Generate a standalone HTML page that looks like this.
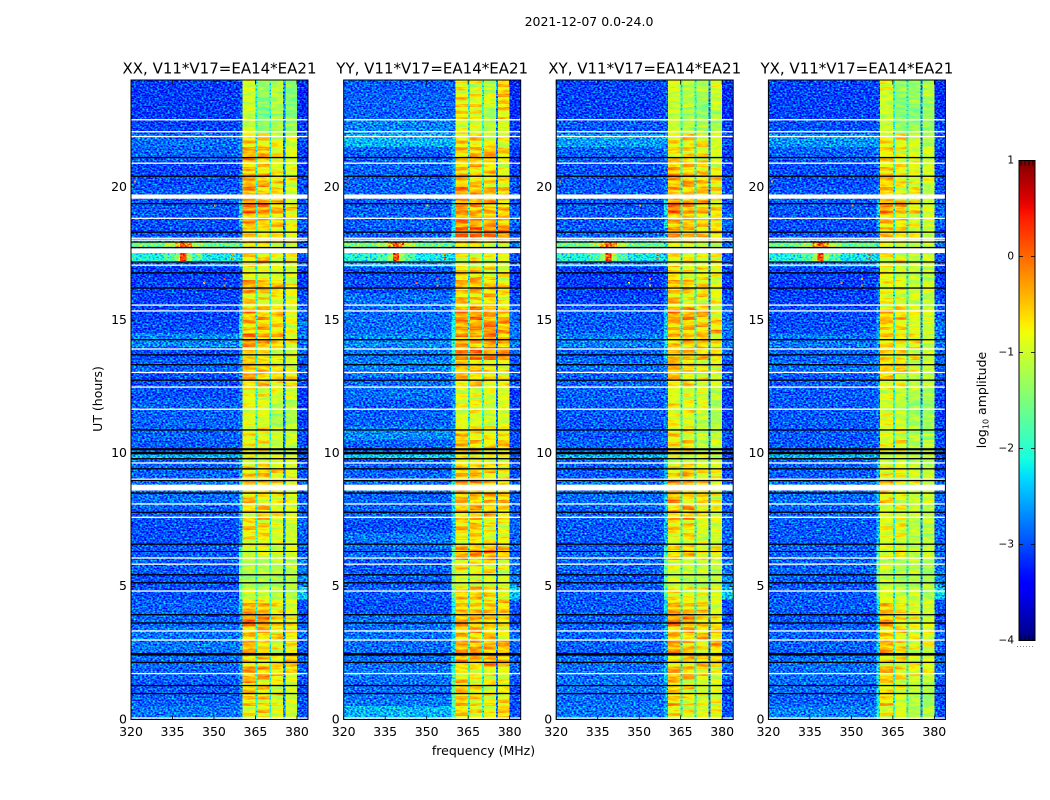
<!DOCTYPE html>
<html lang="en">
<head>
<meta charset="utf-8">
<title>2021-12-07 0.0-24.0</title>
<style>
html,body{margin:0;padding:0;background:#fff;width:1050px;height:800px;overflow:hidden}
svg{display:block}
text{font-family:"DejaVu Sans","Liberation Sans",sans-serif;fill:#000}
</style>
</head>
<body>
<svg id="figure" xmlns="http://www.w3.org/2000/svg" width="1050" height="800" viewBox="0 0 1050 800">
  <defs>
    <filter id="noise-bg" filterUnits="userSpaceOnUse" x="0" y="0" width="1050" height="800" color-interpolation-filters="sRGB">
      <feTurbulence type="fractalNoise" baseFrequency="0.47 0.63" numOctaves="1" seed="7" result="t"/>
      <feColorMatrix in="t" type="matrix" values="1 0 0 0 0 1 0 0 0 0 1 0 0 0 0 0 0 0 0 1" result="n"/>
      <feComposite in="SourceGraphic" in2="n" operator="arithmetic" k1="0" k2="1" k3="0.58" k4="-0.29" result="m"/>
      <feComponentTransfer in="m" result="c">
        <feFuncR class="jet-r" type="table"/><feFuncG class="jet-g" type="table"/><feFuncB class="jet-b" type="table"/>
      </feComponentTransfer>
      <feComposite in="c" in2="SourceAlpha" operator="in"/>
    </filter>
    <filter id="noise-band" filterUnits="userSpaceOnUse" x="0" y="0" width="1050" height="800" color-interpolation-filters="sRGB">
      <feTurbulence type="fractalNoise" baseFrequency="0.09 0.5" numOctaves="2" seed="3" result="t"/>
      <feColorMatrix in="t" type="matrix" values="1 0 0 0 0 1 0 0 0 0 1 0 0 0 0 0 0 0 0 1" result="n"/>
      <feComposite in="SourceGraphic" in2="n" operator="arithmetic" k1="0" k2="1" k3="0.2" k4="-0.1" result="m"/>
      <feComponentTransfer in="m" result="c">
        <feFuncR class="jet-r" type="table"/><feFuncG class="jet-g" type="table"/><feFuncB class="jet-b" type="table"/>
      </feComponentTransfer>
      <feComposite in="c" in2="SourceAlpha" operator="in"/>
    </filter>
    <linearGradient id="jet-gradient" x1="0" y1="1" x2="0" y2="0"></linearGradient>
  </defs>
  <text x="589" y="26" text-anchor="middle" font-size="12.5">2021-12-07 0.0-24.0</text>
  <text transform="translate(102,399) rotate(-90)" text-anchor="middle" font-size="12.5">UT (hours)</text>
  <text x="483.5" y="755" text-anchor="middle" font-size="12.5">frequency (MHz)</text>
  <g id="panels"></g>
  <g id="colorbar"></g>
  <text transform="translate(986,400) rotate(-90)" text-anchor="middle" font-size="12.5">log<tspan font-size="8" dy="2.5">10</tspan><tspan dy="-2.5"> amplitude</tspan></text>
</svg>
<script>
// ---- axis definitions ----
const xTicks = [320, 335, 350, 365, 380];
const yTicks = [0, 5, 10, 15, 20];
const colorbarTicks = [1, 0, -1, -2, -3, -4];
const panelNames = ['XX', 'YY', 'XY', 'YX'];
// channel boundaries in MHz: background, band edge, sub-band 1, gap, sub-band 2, gap, sub-band 3, gap, sub-band 4, upper edge
const freqEdges = [320, 359, 360.4, 365, 365.7, 370, 370.7, 375, 375.8, 380, 384];
const rowHours = 0.5;
const gapLevels = [-2.0, -2.0, -2.7];

// ---- log10 amplitude per half-hour row, hour 0 first ----
const xxBackground = [
-2.8,-2.9,-2.95,-2.9,-2.85,-2.8,-2.8,-2.9,
-2.9,-3,-3,-2.95,-2.95,-3,-3,-2.95,
-2.85,-2.8,-2.9,-2.9,-2.95,-2.9,-2.9,-2.9,
-3,-3,-2.9,-3,-2.7,-3,-3.05,-3.05,
-3.05,-3.1,-2.9,-2.6,-3,-3,-2.95,-2.95,
-3,-3.05,-2.9,-2.85,-3.05,-3.1,-3.1,-3.1];
const yyBackground = [
-2.5,-2.8,-2.85,-2.8,-2.85,-2.85,-2.85,-2.85,
-3,-2.95,-2.95,-2.95,-2.9,-2.8,-3,-2.9,
-2.9,-2.85,-2.9,-2.9,-2.9,-2.7,-2.9,-2.95,
-2.85,-2.85,-2.75,-2.8,-2.7,-2.85,-2.85,-2.85,
-3,-3,-2.6,-2.6,-2.95,-2.9,-2.95,-2.9,
-2.9,-2.9,-2.9,-2.5,-2.75,-2.9,-2.9,-2.95];
const xyBackground = [
-2.8,-2.85,-2.8,-2.85,-2.85,-2.9,-2.9,-2.9,
-2.95,-2.95,-2.95,-2.9,-2.9,-2.95,-2.95,-2.9,
-2.85,-2.8,-2.95,-2.9,-2.9,-2.95,-2.95,-2.95,
-2.9,-2.9,-2.85,-2.9,-2.75,-2.95,-2.95,-3.05,
-3.1,-3.1,-2.8,-2.6,-2.9,-2.95,-2.95,-2.95,
-2.95,-3,-2.9,-2.6,-2.95,-3.05,-3.05,-3.05];
const yxBackground = [
-2.75,-2.9,-2.85,-2.85,-2.85,-2.9,-2.9,-2.95,
-2.95,-2.95,-2.95,-2.9,-2.9,-2.95,-2.95,-2.9,
-2.85,-2.85,-2.95,-2.9,-2.95,-2.95,-2.95,-2.95,
-2.95,-2.95,-2.85,-2.9,-2.8,-3,-3,-3.05,
-3.1,-3.05,-2.8,-2.6,-3,-3,-2.95,-2.95,
-3,-3,-2.9,-2.65,-3,-3.05,-3.05,-3.05];

const xxEdge = [
-2.7,-2.7,-2.7,-2.6,-2.6,-2.6,-2.6,-2.6,
-2.4,-1.8,-1.6,-1.6,-1.9,-2.6,-2.6,-2.5,
-2.4,-2.3,-2.5,-2.5,-2.8,-2.8,-2.8,-2.8,
-2.8,-2.7,-2.6,-2.6,-2.2,-2.2,-2.4,-2.8,
-2.9,-3,-2.4,-2,-2.8,-2.5,-2.3,-2.7,
-2.7,-2.8,-2.7,-2.6,-2.9,-3,-3,-3];
const yyEdge = [
-1.9,-1.7,-1.7,-2.0,-2.2,-2.3,-2.2,-2.4,
-2.1,-1.6,-1.4,-1.4,-1.7,-2.4,-2.5,-2.3,
-2.1,-2.1,-2.3,-2.3,-2.7,-2.7,-2.7,-2.7,
-2.7,-2.5,-2.2,-2.1,-1.9,-2.1,-2.3,-2.6,
-2.8,-2.9,-2.4,-2.1,-2.0,-2.4,-2.3,-2.6,
-2.6,-2.6,-2.6,-2.5,-2.8,-2.9,-2.9,-2.9];
const xyEdge = [
-2.5,-2.6,-2.5,-2.4,-2.5,-2.5,-2.5,-2.6,
-2.3,-1.8,-1.6,-1.6,-1.9,-2.4,-2.5,-2.5,
-2.4,-2.3,-2.5,-2.4,-2.8,-2.8,-2.8,-2.8,
-2.8,-2.8,-2.6,-2.4,-2.3,-2.4,-2.5,-2.8,
-2.9,-3,-2.4,-2.1,-2.6,-2.4,-2.2,-2.7,
-2.8,-2.8,-2.7,-2.6,-2.9,-3,-3,-3];
const yxEdge = [
-2.0,-2.2,-2.2,-2.2,-2.3,-2.3,-2.4,-2.5,
-2.2,-1.7,-1.6,-1.6,-1.8,-2.4,-2.5,-2.5,
-2.4,-2.4,-2.5,-2.4,-2.8,-2.8,-2.8,-2.8,
-2.8,-2.8,-2.6,-2.6,-2.5,-2.6,-2.6,-2.8,
-2.9,-3,-2.4,-2.1,-2.8,-2.5,-2.3,-2.7,
-2.8,-2.8,-2.7,-2.6,-2.9,-3,-3,-3];

const upperEdge = [
-3.0,-3.0,-3.0,-2.9,-2.9,-2.9,-2.9,-3.0,
-3.0,-2.4,-2.7,-2.8,-2.9,-2.9,-2.9,-2.9,
-2.9,-2.9,-3.0,-3.0,-3.0,-3.0,-3.1,-3.1,
-3.1,-3.0,-3.0,-2.9,-2.8,-2.8,-2.9,-3.0,
-3.1,-3.1,-3.0,-2.8,-3.0,-2.9,-2.9,-3.0,
-3.0,-3.1,-3.1,-3.0,-3.1,-3.2,-3.2,-3.2];

// four sub-bands per row
const xxBands = [
[-.7,-.6,-.9,-1],[-.6,-.6,-.8,-.9],[-.5,-.6,-.8,-1],[-.3,-.3,-.5,-.7],[-.5,-.6,-.7,-.4],[-.4,-.6,-.8,-.7],[-.4,-.4,-.6,-.6],[-.1,-.1,-.6,-.7],
[-.4,-.4,-.7,-.9],[-1,-1,-1.1,-1.1],[-1.2,-1.2,-1.2,-1.1],[-1.1,-1.1,-1.1,-1.1],[-.9,-.9,-1,-.9],[-.7,-.6,-.9,-1],[-.6,-.6,-.9,-1],[-.6,-.4,-.7,-.9],
[-.5,-.7,-.8,-.8],[-.4,-.4,-.5,-.7],[-.5,-.4,-.7,-.8],[-.8,-.7,-.9,-1],[-.7,-.7,-1,-1],[-.7,-.7,-1,-1],[-.9,-.9,-1.2,-1.2],[-.8,-.9,-1.1,-1.1],
[-.7,-.8,-.9,-.9],[-.4,-.5,-.6,-.6],[-.3,-.4,-.6,-.8],[-.7,-.7,-.8,-.8],[-.2,-.3,-.5,-.7],[-.4,-.4,-.6,-.8],[-.3,-.4,-.5,-.8],[-.6,-.7,-.8,-.9],
[-.3,-.4,-.5,-.8],[-.8,-.9,-.9,-1],[-.6,-.5,-.8,-.8],[-.6,-.5,-.7,-.7],[-.6,-.7,-.7,-.9],[-.3,-.4,-.5,-.7],[-.1,-.1,-.4,-.6],[-.3,-.4,-.6,-.9],
[-.3,-.4,-.6,-.8],[-.5,-.6,-.8,-.9],[-.3,-.4,-.7,-.9],[-.5,-.6,-.8,-1],[-1,-1.3,-1.2,-1.3],[-1,-1.5,-1.2,-1.4],[-1,-1.4,-1.1,-1.4],[-.9,-1.3,-1.1,-1.4]];
const yyBands = [
[-.5,-.7,-.8,-.5],[-.5,-.6,-.7,-.7],[-.5,-.6,-.8,-.8],[-.7,-.8,-.7,-.9],[-.3,-.4,-.3,-.4],[-.3,-.3,-.3,-.4],[-.4,-.4,-.5,-.7],[-.3,-.4,-.5,-.6],
[-.5,-.5,-.5,-.6],[-.5,-.4,-.6,-.8],[-.9,-.8,-.9,-1],[-.6,-.6,-.7,-.8],[-.2,-.2,-.2,-.4],[-.7,-.6,-.8,-.8],[-.5,-.5,-.7,-.8],[-.4,-.4,-.5,-.6],
[-.4,-.4,-.4,-.5],[-.2,-.2,-.4,-.5],[-.4,-.4,-.6,-.8],[-.6,-.6,-.7,-.8],[-.4,-.5,-.5,-.5],[-.4,-.6,-.7,-.6],[-.9,-.9,-1,-.9],[-.8,-.8,-1,-.9],
[-.8,-.8,-.9,-.9],[-.5,-.5,-.6,-.7],[-.3,-.4,-.6,-.7],[-.2,-.1,-.1,-.1],[-.3,-.4,-.2,-.3],[-.2,-.2,-.1,-.3],[-.2,-.1,-.3,-.4],[-.5,-.5,-.5,-.8],
[-.5,-.3,-.5,-.7],[-.6,-.4,-.7,-.8],[-.8,-.8,-.8,-.9],[-.5,-.5,-.7,-.7],[0,0,-.1,0],[-.1,-.2,-.3,-.4],[-.2,-.3,-.4,-.5],[-.2,-.2,-.4,-.5],
[-.4,-.5,-.6,-.7],[-.5,-.5,-.6,-.8],[-.5,-.4,-.3,-.6],[-.5,-.6,-.8,-.8],[-.8,-.9,-1.1,-.9],[-.6,-.7,-1.2,-.6],[-.6,-.7,-.9,-.5],[-.8,-.8,-1.1,-.5]];
const xyBands = [
[-.6,-.8,-.9,-.7],[-.5,-.7,-.8,-.8],[-.6,-.7,-.9,-.9],[-.3,-.4,-.6,-.8],[-.6,-.5,-.5,-.5],[-.3,-.5,-.6,-.5],[-.4,-.4,-.5,-.5],[-.1,-.2,-.5,-.7],
[-.4,-.5,-.6,-.9],[-.7,-.8,-.8,-.8],[-1,-1.1,-1.1,-1.1],[-.9,-1,-1,-1],[-.5,-.5,-.7,-.7],[-.8,-.7,-1,-1],[-.6,-.6,-.9,-.9],[-.4,-.3,-.7,-.8],
[-.4,-.6,-.6,-.8],[-.2,-.3,-.5,-.7],[-.5,-.4,-.7,-.7],[-.8,-.8,-.9,-1],[-.6,-.6,-1,-1],[-.6,-.7,-1,-1.1],[-.8,-.9,-1.1,-1.2],[-.8,-.8,-.9,-1.1],
[-.9,-.8,-.9,-1.1],[-.5,-.6,-.8,-.9],[-.2,-.5,-.6,-.8],[-.5,-.4,-.4,-.5],[-.5,-.4,-.4,-.7],[-.4,-.4,-.5,-.5],[-.2,-.2,-.4,-.8],[-.5,-.7,-.7,-.8],
[-.5,-.4,-.6,-.8],[-.6,-.7,-.7,-.8],[-.7,-.7,-.8,-.8],[-.7,-.7,-.8,-.8],[-.3,-.5,-.5,-.5],[-.3,-.4,-.5,-.6],[0,-.2,-.4,-.6],[-.4,-.4,-.5,-.5],
[-.3,-.3,-.4,-.6],[-.4,-.5,-.6,-.8],[-.6,-.6,-.7,-.9],[-.6,-.6,-.7,-.9],[-1,-1.1,-1.2,-1.2],[-1,-1.2,-1.3,-1.2],[-1,-1.1,-1.3,-1],[-.9,-1.1,-1.1,-.9]];
const yxBands = [
[-.7,-.9,-1.1,-1.1],[-.6,-.9,-1.1,-1.2],[-.7,-.8,-1,-1.1],[-.4,-.6,-.7,-.8],[-.7,-.7,-.8,-.9],[-.4,-.6,-.8,-.8],[-.5,-.6,-.8,-.8],[-.3,-.6,-.8,-.9],
[-.5,-.7,-.9,-1],[-.9,-1,-1,-1.1],[-1.1,-1.2,-1.2,-1.2],[-1,-1.1,-1.1,-1.2],[-.8,-.7,-1,-1],[-.9,-.8,-1.1,-1.1],[-.8,-.7,-1.1,-1.1],[-.9,-.8,-1,-1.1],
[-.7,-.8,-1,-1],[-.4,-.7,-.8,-.9],[-.7,-.7,-.9,-1],[-1,-.9,-1.1,-1.1],[-.8,-.7,-1.1,-1.1],[-.9,-.8,-1.1,-1.2],[-.8,-1,-1.2,-1.2],[-1,-1.1,-1.3,-1.3],
[-.8,-1,-1.1,-1.2],[-.7,-.8,-1,-1.1],[-.4,-.4,-.8,-1],[-.7,-.7,-.7,-.9],[-.6,-.7,-.7,-1],[-.5,-.6,-.9,-1],[-.4,-.5,-.8,-.9],[-.8,-.8,-1,-1.1],
[-.8,-.7,-1,-1],[-.8,-.9,-1,-1.1],[-.8,-.8,-1,-1],[-.8,-.8,-1,-1],[-.5,-.7,-.8,-1],[-.4,-.6,-.8,-.9],[-.2,-.3,-.6,-.9],[-.5,-.7,-.7,-1],
[-.4,-.7,-.8,-.8],[-.6,-.7,-.8,-.9],[-.6,-.8,-.9,-1],[-.6,-.7,-.9,-1.1],[-1,-1.3,-1.3,-1.3],[-1,-1.4,-1.4,-1.3],[-1,-1.4,-1.3,-1.2],[-.8,-1.3,-1.3,-1.1]];

// horizontal striations read inside the sub-bands, offsets in log10 amplitude
const stripeOffsets = [-.3,.1,-.35,.15,-.15,-.3,.2,-.25,.05,-.35,.15,-.1,-.3,.2,-.2,-.35,.1,.05,-.3,.15,-.3,-.1,.2,-.25,-.05,.1,-.35,.15,-.2,-.3,.2,.05,-.3,-.15,.1,-.25,.15];

const panelBackground = [xxBackground, yyBackground, xyBackground, yxBackground];
const panelEdge = [xxEdge, yyEdge, xyEdge, yxEdge];
const panelBands = [xxBands, yyBands, xyBands, yxBands];

// ---- narrow broadband interference rows ----
const streakStart = [9.79];
const streakEnd = [10.0];
const streakLevels = [[-2.5], [-2.4], [-2.5], [-2.5]];
const rfiHourStart = [17.23, 17.75];
const rfiHourEnd = [17.53, 17.91];
const rfiFreqEdges = [320, 332, 336, 337.8, 340, 342, 346, 359];
const rfiLevels = [
  [-2.1, -1.8, -1.3, 0.2, -1.3, -1.8, -2.2],
  [-1.6, -1.2, -0.4, 0.1, -0.4, -1.2, -1.6]];
const spotFreq = [356.2, 356.2, 353.5, 353.5, 341, 321, 350, 346];
const spotHour = [17.3, 17.45, 16.55, 16.3, 17.85, 20.2, 19.3, 16.4];
const spotLevel = [0, 0.1, -0.1, -0.4, 0.1, -0.2, -0.5, -0.3];

// ---- flagged (white) and missing (black) time ranges ----
const whiteStart = [0.03,1.7,2.96,3.3,4.8,5.81,6.04,7.57,8.07,8.6,9.0,9.61,11.63,12.46,13.01,13.89,15.32,15.54,17.04,17.17,17.52,17.98,18.05,18.8,19.56,20.87,21.87,22.05,22.5];
const whiteEnd = [0.08,1.75,3.01,3.35,4.85,5.86,6.09,7.62,8.12,8.82,9.05,9.66,11.68,12.51,13.06,13.94,15.37,15.59,17.09,17.22,17.7,18.03,18.1,18.85,19.72,20.92,21.92,22.1,22.55];
const blackStart = [0.95,1.25,2.12,2.4,3.6,3.91,5.11,5.41,6.29,6.56,7.76,8.48,8.95,9.39,9.77,9.96,10.11,10.85,12.72,13.3,13.67,14.24,16.18,16.75,17.16,17.7,17.91,18.28,19.35,20.38,21.08];
const blackEnd = [1.0,1.3,2.17,2.5,3.65,3.96,5.16,5.46,6.33,6.61,7.81,8.53,9.0,9.44,9.82,10.05,10.19,10.9,12.77,13.35,13.72,14.29,16.23,16.8,17.21,17.75,17.95,18.33,19.4,20.43,21.13];

// ---- layout ----
const SVGNS = 'http://www.w3.org/2000/svg';
const panelLeft = [131, 343.7, 556.2, 768.4];
const panelWidth = 177;
const plotTop = 80.5;
const plotBottom = 719.5;
const freqMin = 320, freqMax = 384, hourMax = 24;
const colorbarLeft = 1019, colorbarRight = 1035, colorbarTop = 160.5, colorbarBottom = 640.5;
const stripesPerRow = 4;

function xScale(p, f) { return panelLeft[p] + (f - freqMin) / (freqMax - freqMin) * panelWidth; }
function yScale(h) { return plotBottom - h / hourMax * (plotBottom - plotTop); }
function levelScale(v) { return colorbarBottom - (v + 4) / 5 * (colorbarBottom - colorbarTop); }
function grayOf(v) { const g = Math.round(Math.max(0, Math.min(1, (v + 4) / 5)) * 255); return 'rgb(' + g + ',' + g + ',' + g + ')'; }

function seg(t, pts) {
  for (let i = 1; i < pts.length; i++) {
    if (t <= pts[i][0]) {
      const a = pts[i - 1], b = pts[i];
      return a[1] + (b[1] - a[1]) * (t - a[0]) / (b[0] - a[0]);
    }
  }
  return pts[pts.length - 1][1];
}
function jetR(t) { return seg(t, [[0,0],[.35,0],[.66,1],[.89,1],[1,.5]]); }
function jetG(t) { return seg(t, [[0,0],[.125,0],[.375,1],[.64,1],[.91,0],[1,0]]); }
function jetB(t) { return seg(t, [[0,.5],[.11,1],[.34,1],[.65,0],[1,0]]); }

const tableSteps = 100;
function tableOf(fn) { const o = []; for (let i = 0; i <= tableSteps; i++) o.push(fn(i / tableSteps).toFixed(3)); return o.join(' '); }
document.querySelectorAll('.jet-r').forEach(n => n.setAttribute('tableValues', tableOf(jetR)));
document.querySelectorAll('.jet-g').forEach(n => n.setAttribute('tableValues', tableOf(jetG)));
document.querySelectorAll('.jet-b').forEach(n => n.setAttribute('tableValues', tableOf(jetB)));

function make(tag, attrs, parent) {
  const el = document.createElementNS(SVGNS, tag);
  for (const k in attrs) el.setAttribute(k, attrs[k]);
  parent.appendChild(el);
  return el;
}
function cell(parent, x0, x1, y0, y1, v) {
  const el = make('rect', { x: x0, y: y0, width: x1 - x0, height: y1 - y0, fill: grayOf(v) }, parent);
  
  
  return el;
}

const panelsRoot = document.getElementById('panels');
panelNames.forEach(function (name, p) {
  const key = name.toLowerCase();
  const g = make('g', {}, panelsRoot);
  
  

  const bgGroup = make('g', { filter: 'url(#noise-bg)', 'shape-rendering': 'crispEdges' }, g);
  
  
  const bandGroup = make('g', { filter: 'url(#noise-band)', 'shape-rendering': 'crispEdges' }, g);
  
  

  panelBands[p].forEach(function (bands, r) {
    const y0 = yScale((r + 1) * rowHours), y1 = yScale(r * rowHours);
    const rowLevels = [panelBackground[p][r], panelEdge[p][r], bands[0], gapLevels[0], bands[1], gapLevels[1], bands[2], gapLevels[2], bands[3], upperEdge[r]];
    rowLevels.forEach(function (v, c) {
      const isBand = c === 2 || c === 4 || c === 6 || c === 8;
      if (!isBand) {
        cell(bgGroup, xScale(p, freqEdges[c]), xScale(p, freqEdges[c + 1]), y0, y1, v);
        return;
      }
      for (let s = 0; s < stripesPerRow; s++) {
        const off = stripeOffsets[(r * stripesPerRow + s + c) % stripeOffsets.length];
        const strength = v > -0.9 ? 1 : 0.4;
        const hA = r * rowHours + s * rowHours / stripesPerRow;
        const hB = hA + rowHours / stripesPerRow;
        cell(bandGroup, xScale(p, freqEdges[c]), xScale(p, freqEdges[c + 1]), yScale(hB), yScale(hA), v + off * strength);
      }
    });
  });

  streakStart.forEach(function (s, i) {
    cell(bgGroup, xScale(p, freqEdges[0]), xScale(p, freqEdges[2]), yScale(streakEnd[i]), yScale(s), streakLevels[p][i]);
  });
  rfiLevels.forEach(function (row, r) {
    row.forEach(function (v, c) {
      cell(bgGroup, xScale(p, rfiFreqEdges[c]), xScale(p, rfiFreqEdges[c + 1]), yScale(rfiHourEnd[r]), yScale(rfiHourStart[r]), v);
    });
  });
  spotFreq.forEach(function (f, i) {
    const el = cell(bgGroup, xScale(p, f), xScale(p, f) + 2, yScale(spotHour[i]) - 1, yScale(spotHour[i]) + 1, spotLevel[i]);
    
  });

  const flags = make('g', {}, g);
  
  
  whiteStart.forEach(function (s, i) {
    const el = make('rect', { x: panelLeft[p], width: panelWidth, y: yScale(whiteEnd[i]), height: yScale(s) - yScale(whiteEnd[i]), fill: '#fff' }, flags);
    
    
  });
  blackStart.forEach(function (s, i) {
    const el = make('rect', { x: panelLeft[p], width: panelWidth, y: yScale(blackEnd[i]), height: yScale(s) - yScale(blackEnd[i]), fill: '#000' }, flags);
    
    
  });

  const frame = make('rect', { x: panelLeft[p], y: plotTop - 0.5, width: panelWidth, height: plotBottom - plotTop + 0.5, fill: 'none', stroke: '#000', 'stroke-width': 1 }, g);
  
  

  xTicks.forEach(function (t) {
    const x = xScale(p, t);
    const a = make('line', { x1: x, x2: x, y1: plotBottom, y2: plotBottom - 4, stroke: '#000', 'stroke-width': 0.8 }, g);
    
    
    const b = make('line', { x1: x, x2: x, y1: plotTop, y2: plotTop + 4, stroke: '#000', 'stroke-width': 0.8 }, g);
    
    
    const l = make('text', { x: x, y: 736, 'text-anchor': 'middle', 'font-size': 12.5 }, g);
    
    
    l.textContent = t;
  });
  yTicks.forEach(function (t) {
    const y = yScale(t);
    const a = make('line', { x1: panelLeft[p], x2: panelLeft[p] + 4, y1: y, y2: y, stroke: '#000', 'stroke-width': 0.8 }, g);
    
    
    const b = make('line', { x1: panelLeft[p] + panelWidth, x2: panelLeft[p] + panelWidth - 4, y1: y, y2: y, stroke: '#000', 'stroke-width': 0.8 }, g);
    
    
    const l = make('text', { x: panelLeft[p] - 4, y: y + 3.8, 'text-anchor': 'end', 'font-size': 12.5 }, g);
    
    
    l.textContent = t;
  });
  const title = make('text', { x: panelLeft[p] + 88.5, y: 73.5, 'text-anchor': 'middle', 'font-size': 15 }, g);
  
  
  title.textContent = name + ', V11*V17=EA14*EA21';
});

// ---- colorbar ----
const grad = document.getElementById('jet-gradient');
for (let i = 0; i <= 50; i++) {
  const t = i / 50;
  const c = 'rgb(' + Math.round(jetR(t) * 255) + ',' + Math.round(jetG(t) * 255) + ',' + Math.round(jetB(t) * 255) + ')';
  make('stop', { offset: t, 'stop-color': c }, grad);
}
const cb = document.getElementById('colorbar');
const cbBar = make('rect', { x: colorbarLeft, y: colorbarTop, width: colorbarRight - colorbarLeft, height: colorbarBottom - colorbarTop, fill: 'url(#jet-gradient)', stroke: '#000', 'stroke-width': 1 }, cb);


colorbarTicks.forEach(function (v) {
  const y = levelScale(v);
  const tl = make('line', { x1: colorbarLeft, x2: colorbarLeft + 4, y1: y, y2: y, stroke: '#000', 'stroke-width': 0.8 }, cb);
  
  
  const tr = make('line', { x1: colorbarRight, x2: colorbarRight - 4, y1: y, y2: y, stroke: '#000', 'stroke-width': 0.8 }, cb);
  
  
  const l = make('text', { x: 1014, y: y + 3, 'text-anchor': 'end', 'font-size': 10.5 }, cb);
  
  
  l.textContent = v < 0 ? '\u2212' + Math.abs(v) : String(v);
});
[1021, 1025, 1029, 1033].forEach(function (x) {
  const a = make('line', { x1: x, x2: x, y1: colorbarTop, y2: colorbarTop + 5, stroke: '#000', 'stroke-width': 0.8 }, cb);
  
  
  const b = make('line', { x1: x, x2: x, y1: colorbarBottom, y2: colorbarBottom - 5, stroke: '#000', 'stroke-width': 0.8 }, cb);
  
  
});
const dots = make('line', { x1: 1017, x2: 1035, y1: 646.5, y2: 646.5, stroke: '#888', 'stroke-width': 1, 'stroke-dasharray': '1 2' }, cb);


</script>
</body>
</html>
